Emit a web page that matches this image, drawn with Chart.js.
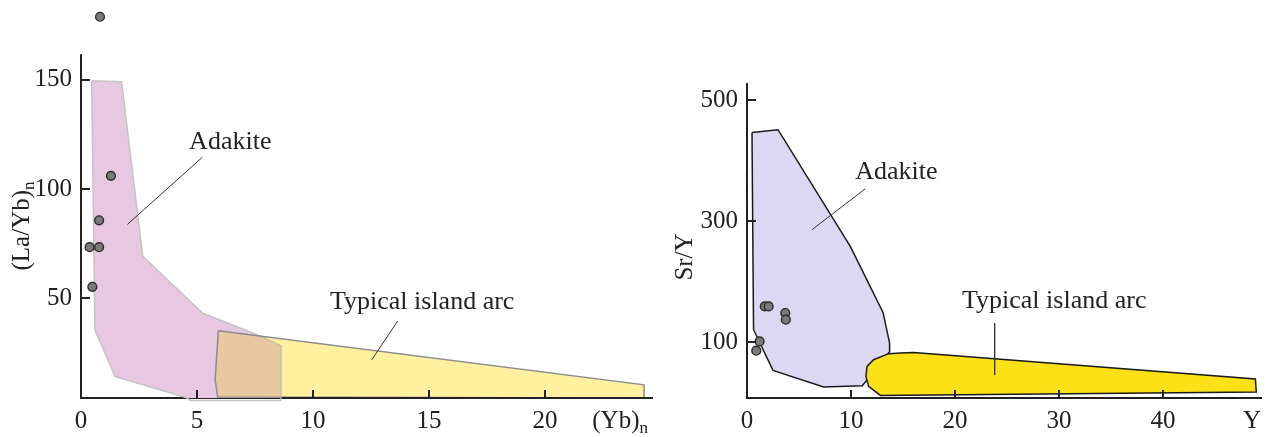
<!DOCTYPE html>
<html>
<head>
<meta charset="utf-8">
<script src="https://cdn.jsdelivr.net/npm/chart.js@4/dist/chart.umd.min.js"></script>
<style>
  html, body { margin: 0; padding: 0; background: #ffffff; }
  #wrap { position: relative; width: 1269px; height: 437px; overflow: hidden; }
  .panel { position: absolute; top: 0; height: 437px; }
  #leftPanel { left: 0; width: 660px; }
  #rightPanel { left: 660px; width: 609px; }
</style>
</head>
<body>
<div id="wrap">
  <div class="panel" id="leftPanel"><canvas id="leftChart"></canvas></div>
  <div class="panel" id="rightPanel"><canvas id="rightChart"></canvas></div>
</div>
<script>
// ---- (Yb)n vs (La/Yb)n ----
const sampleYbN   = [0.82, 1.29, 0.78, 0.37, 0.78, 0.49];
const sampleLaYbN = [178.7, 106.0, 85.7, 73.4, 73.4, 55.3];

const adakiteYbN   = [0.46, 1.75, 2.66, 5.25, 7.43, 8.62, 8.62, 4.70, 4.56, 1.47, 0.60, 0.46];
const adakiteLaYbN = [149.4, 149.0, 69.3, 43.2, 34.1, 28.4, 3.4, 3.4, 4.6, 14.3, 35.6, 149.4];

const arcYbN   = [5.92, 5.78, 5.89, 24.30, 24.27, 5.92];
const arcLaYbN = [35.2, 12.8, 4.9, 4.5, 10.5, 35.2];

const ybTicks   = [0, 5, 10, 15, 20];
const laYbTicks = [50, 100, 150];

// ---- Y vs Sr/Y ----
const sampleY   = [1.71, 2.08, 3.68, 3.73, 1.21, 0.89];
const sampleSrY = [158.8, 158.8, 147.9, 136.9, 101.0, 85.6];

const adakiteY   = [0.48, 2.98, 9.93, 13.08, 13.71, 13.71, 11.09, 7.37, 2.50, 0.63, 0.48];
const adakiteSrY = [446.4, 450.9, 258.0, 148.9, 98.3, 84.0, 27.8, 25.6, 53.1, 120.3, 446.4];

const arcY   = [16.02, 48.88, 48.97, 12.82, 11.69, 11.44, 11.54, 12.17, 13.62, 14.74, 16.02];
const arcSrY = [82.8, 38.8, 17.4, 11.7, 26.6, 43.1, 59.7, 70.7, 80.7, 81.8, 82.8];

const yTicks   = [0, 10, 20, 30, 40];
const srYTicks = [100, 300, 500];

// field labels and their leader lines, in data units
const leftNotes = [
  { text: 'Adakite', x: 4.66, y: 121.2, from: [5.23, 114.5], to: [2.0, 83.8] },
  { text: 'Typical island arc', x: 10.73, y: 48.5, from: [13.65, 39.7], to: [12.53, 21.9] }
];
const rightNotes = [
  { text: 'Adakite', x: 10.41, y: 381, from: [11.38, 353.4], to: [6.25, 285.6] },
  { text: 'Typical island arc', x: 20.67, y: 167.1, from: [23.81, 131.4], to: [23.81, 45.6] }
];

const INK = '#222222';
const SERIF = "'Liberation Serif', 'Times New Roman', serif";

const pairs = (xs, ys) => xs.map((v, i) => ({ x: v, y: ys[i] }));

function sampleSet(xs, ys) {
  return {
    data: pairs(xs, ys),
    showLine: false,
    pointRadius: 4.4,
    pointBorderWidth: 1.4,
    pointBackgroundColor: '#7a7a7a',
    pointBorderColor: '#2a2a2a',
    clip: false
  };
}

function leaderSet(note) {
  return {
    data: [{ x: note.from[0], y: note.from[1] }, { x: note.to[0], y: note.to[1] }],
    showLine: true,
    borderColor: '#333333',
    borderWidth: 1,
    pointRadius: 0,
    fill: false
  };
}

function fieldSet(xs, ys, fillColor, lineColor, lineWidth, extra) {
  return Object.assign({
    data: pairs(xs, ys),
    showLine: true,
    fill: 'shape',
    backgroundColor: fillColor,
    borderColor: lineColor,
    borderWidth: lineWidth,
    pointRadius: 0,
    tension: 0,
    clip: false
  }, extra || {});
}

// inner tick marks, y axis line, field labels and axis names
const decorations = {
  id: 'decorations',
  afterDatasetDraw(chart, args) {
    const ds = chart.data.datasets[args.index];
    chart.ctx.globalCompositeOperation = ds.blendNext || 'source-over';
  },
  afterDraw(chart, args, opts) {
    const ctx = chart.ctx;
    const xs = chart.scales.x, ys = chart.scales.y;
    const area = chart.chartArea;
    ctx.save();
    ctx.globalCompositeOperation = 'source-over';
    ctx.strokeStyle = INK;
    ctx.lineWidth = 2;
    ctx.beginPath();
    // y axis line, from the x axis up to its top value
    const yTopPx = ys.getPixelForValue(opts.yAxisTop);
    ctx.moveTo(area.left, area.bottom + 1);
    ctx.lineTo(area.left, yTopPx);
    xs.ticks.forEach(t => {
      if (t.value === xs.min) return;
      const px = Math.round(xs.getPixelForValue(t.value));
      ctx.moveTo(px, area.bottom);
      ctx.lineTo(px, area.bottom - 8);
    });
    ys.ticks.forEach(t => {
      const py = Math.round(ys.getPixelForValue(t.value));
      ctx.moveTo(area.left, py);
      ctx.lineTo(area.left + 9, py);
    });
    ctx.stroke();

    ctx.fillStyle = INK;
    ctx.textBaseline = 'middle';
    ctx.textAlign = 'left';
    ctx.font = '26px ' + SERIF;
    opts.notes.forEach(n => {
      ctx.fillText(n.text, xs.getPixelForValue(n.x), ys.getPixelForValue(n.y));
    });

    // x axis name at the right end
    ctx.textBaseline = 'alphabetic';
    const xt = opts.xTitle;
    ctx.font = '25px ' + SERIF;
    const mainW = ctx.measureText(xt.main).width;
    ctx.font = '17px ' + SERIF;
    const subW = xt.sub ? ctx.measureText(xt.sub).width : 0;
    const startX = area.right + xt.dx - (mainW + subW);
    ctx.font = '25px ' + SERIF;
    ctx.fillText(xt.main, startX, area.bottom + 30);
    if (xt.sub) {
      ctx.font = '17px ' + SERIF;
      ctx.fillText(xt.sub, startX + mainW, area.bottom + 35);
    }

    // y axis name, rotated
    const yt = opts.yTitle;
    ctx.save();
    ctx.translate(area.left + yt.dx, yt.cy);
    ctx.rotate(-Math.PI / 2);
    ctx.font = '25px ' + SERIF;
    const w1 = ctx.measureText(yt.main).width;
    ctx.font = '17px ' + SERIF;
    const w2 = yt.sub ? ctx.measureText(yt.sub).width : 0;
    const sx = -(w1 + w2) / 2;
    ctx.font = '25px ' + SERIF;
    ctx.fillText(yt.main, sx, 0);
    if (yt.sub) {
      ctx.font = '17px ' + SERIF;
      ctx.fillText(yt.sub, sx + w1, 5);
    }
    ctx.restore();
    ctx.restore();
  }
};

function clearPadding(s) {
  s.paddingLeft = 0; s.paddingRight = 0; s.paddingTop = 0; s.paddingBottom = 0;
}

function axisOptions(cfg) {
  return {
    x: {
      type: 'linear',
      min: cfg.xMin, max: cfg.xMax,
      grid: { display: false, drawTicks: false },
      border: { display: true, color: INK, width: 2 },
      ticks: { font: { family: SERIF, size: 25 }, color: INK, padding: 8, maxRotation: 0, autoSkip: false },
      afterBuildTicks: s => { s.ticks = cfg.xTicks.map(v => ({ value: v })); },
      afterFit: s => { s.height = 39; clearPadding(s); }
    },
    y: {
      type: 'linear',
      min: cfg.yMin, max: cfg.yMax,
      grid: { display: false, drawTicks: false },
      border: { display: false },
      ticks: { font: { family: SERIF, size: 25 }, color: INK, padding: cfg.yPad, autoSkip: false },
      afterBuildTicks: s => { s.ticks = cfg.yTicks.map(v => ({ value: v })); },
      afterFit: s => { s.width = cfg.yWidth; clearPadding(s); }
    }
  };
}

function baseOptions(cfg, pluginOpts) {
  return {
    responsive: true,
    maintainAspectRatio: false,
    animation: false,
    layout: { padding: { left: 0, right: 8, top: cfg.top, bottom: 0 } },
    scales: axisOptions(cfg),
    plugins: {
      legend: { display: false },
      tooltip: { enabled: false },
      filler: { propagate: false },
      decorations: pluginOpts
    }
  };
}

new Chart(document.getElementById('leftChart'), {
  type: 'scatter',
  data: {
    datasets: [
      sampleSet(sampleYbN, sampleLaYbN),
      leaderSet(leftNotes[0]),
      leaderSet(leftNotes[1]),
      fieldSet(arcYbN, arcLaYbN, '#fff1a0', '#8c8c8c', 1.5),
      fieldSet(adakiteYbN, adakiteLaYbN, '#e8c8e0', '#c4c4c4', 1.5, { blendNext: 'darken' })
    ]
  },
  options: baseOptions(
    { xMin: 0, xMax: 24.61, yMin: 4.5, yMax: 183.7, xTicks: ybTicks, yTicks: laYbTicks, yWidth: 81, yPad: 9, top: 0 },
    { notes: leftNotes,
      yAxisTop: 161.6,
      xTitle: { main: '(Yb)', sub: 'n', dx: -4 },
      yTitle: { main: '(La/Yb)', sub: 'n', dx: -52, cy: 226 } }
  ),
  plugins: [decorations]
});

new Chart(document.getElementById('rightChart'), {
  type: 'scatter',
  data: {
    datasets: [
      sampleSet(sampleY, sampleSrY),
      leaderSet(rightNotes[0]),
      leaderSet(rightNotes[1]),
      fieldSet(arcY, arcSrY, '#fbe116', '#1a1a1a', 1.5),
      fieldSet(adakiteY, adakiteSrY, '#dcd7f3', '#1a1a1a', 1.5)
    ]
  },
  options: baseOptions(
    { xMin: 0, xMax: 49.42, yMin: 7.4, yMax: 528.1, xTicks: yTicks, yTicks: srYTicks, yWidth: 87, yPad: 9, top: 83 },
    { notes: rightNotes,
      yAxisTop: 528.1,
      xTitle: { main: 'Y', sub: '', dx: 0 },
      yTitle: { main: 'Sr/Y', sub: '', dx: -55, cy: 257 } }
  ),
  plugins: [decorations]
});
</script>
</body>
</html>
